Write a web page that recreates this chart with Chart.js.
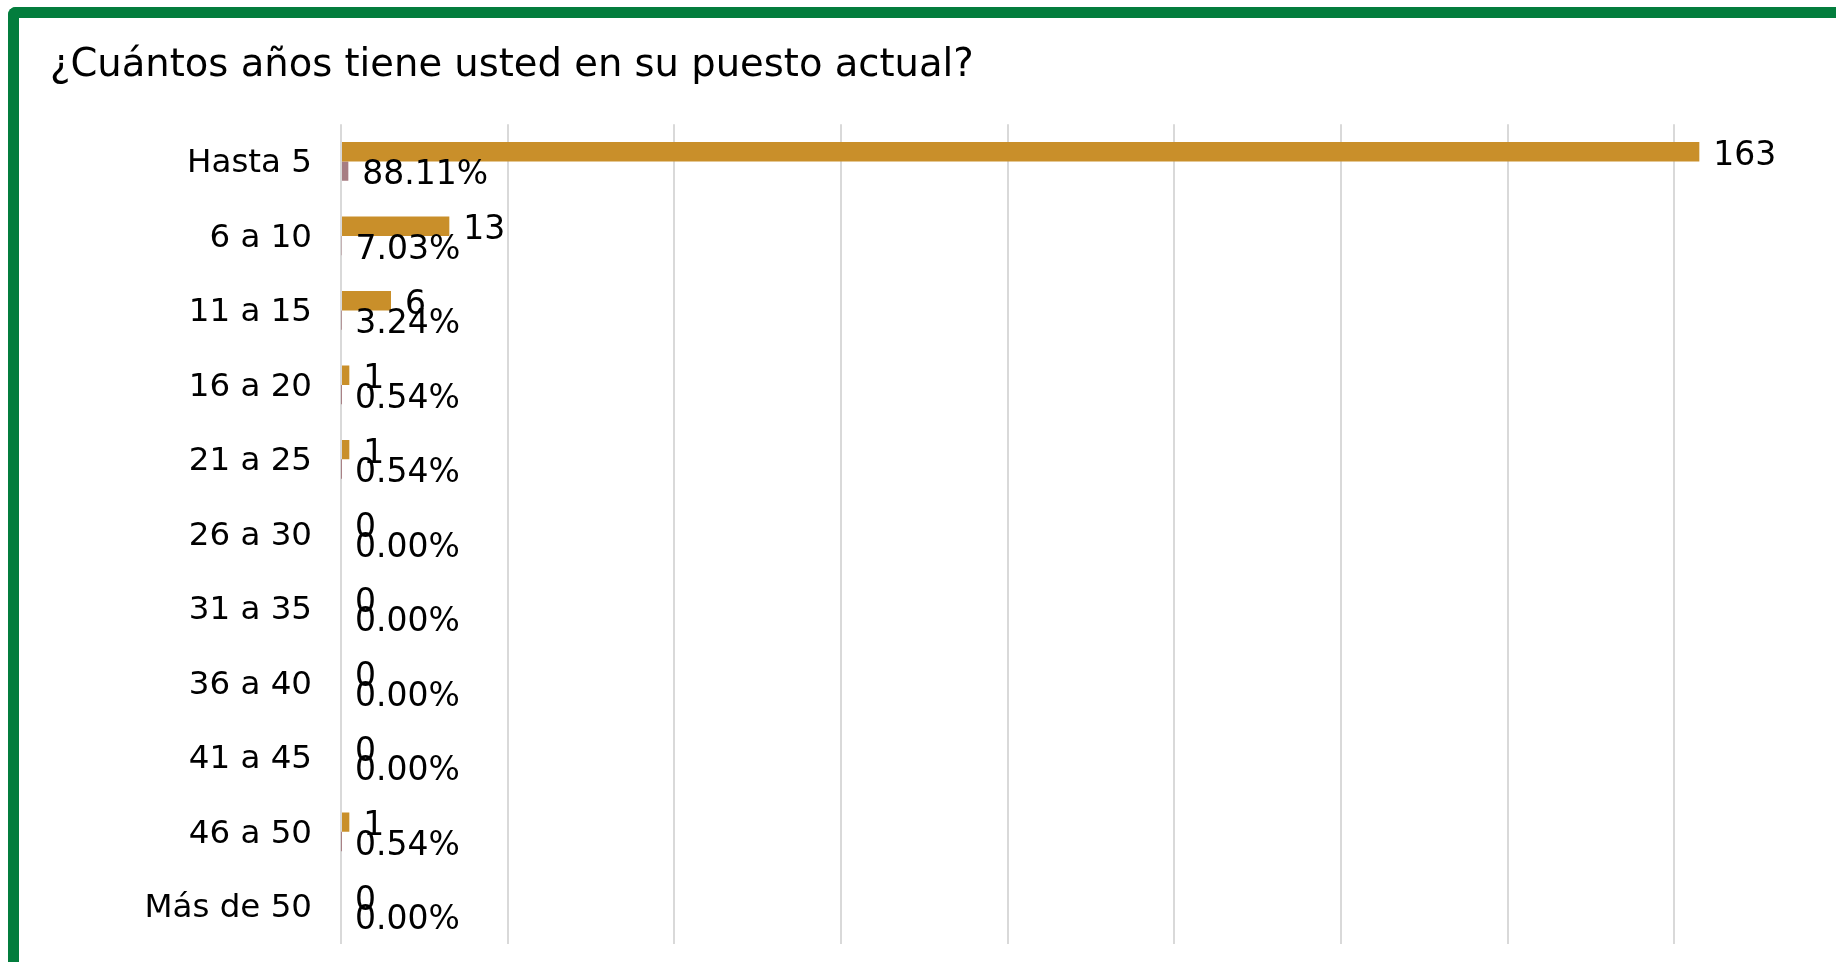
<!DOCTYPE html>
<html lang="es">
<head>
<meta charset="utf-8">
<title>Años en el puesto actual</title>
<script src="https://cdn.jsdelivr.net/npm/chart.js@4/dist/chart.umd.min.js"></script>
<style>
  html, body { margin: 0; padding: 0; background: #fff; overflow: hidden; }
  #hoja { position: relative; width: 1836px; height: 962px; overflow: hidden; background: #fff; }
  #grafico { position: absolute; left: 0; top: 0; }
  /* marco verde del recuadro (sólo se ven el borde superior e izquierdo) */
  #marco {
    position: absolute; left: 8px; top: 7px;
    width: 1900px; height: 1000px;
    border-top: 11px solid #037d3d;
    border-left: 11px solid #037d3d;
    border-top-left-radius: 8px;
    pointer-events: none;
  }
</style>
</head>
<body>
<div id="hoja">
  <canvas id="grafico" width="1860" height="962"></canvas>
  <div id="marco"></div>
</div>

<script>
// Rangos de antigüedad en el puesto
const rangos = ['Hasta 5', '6 a 10', '11 a 15', '16 a 20', '21 a 25', '26 a 30',
                '31 a 35', '36 a 40', '41 a 45', '46 a 50', 'Más de 50'];

// Número de respuestas por rango
const respuestas = [163, 13, 6, 1, 1, 0, 0, 0, 0, 1, 0];

// Proporción sobre el total (se etiqueta como porcentaje)
const porcentajes = [0.8811, 0.0703, 0.0324, 0.0054, 0.0054, 0, 0, 0, 0, 0.0054, 0];

// Eje horizontal
const ejeMax = 180;
const ejePaso = 20;

const titulo = '¿Cuántos años tiene usted en su puesto actual?';

const FUENTE = 'DejaVu Sans';

// Formato de la etiqueta de cada serie
const formatos = [
  v => String(v),
  v => (v * 100).toFixed(2) + '%',
];

// Etiquetas de valor al final de cada barra
const etiquetasBarras = {
  id: 'etiquetasBarras',
  afterDatasetsDraw(chart) {
    const ctx = chart.ctx;
    ctx.save();
    ctx.font = '33px "' + FUENTE + '"';
    ctx.fillStyle = '#000';
    ctx.textAlign = 'left';
    ctx.textBaseline = 'middle';
    chart.data.datasets.forEach((ds, i) => {
      const meta = chart.getDatasetMeta(i);
      meta.data.forEach((barra, j) => {
        ctx.fillText(formatos[i](ds.data[j]), barra.x + 14, barra.y + 4.5);
      });
    });
    ctx.restore();
  }
};

Chart.defaults.font.family = FUENTE;

new Chart(document.getElementById('grafico'), {
  type: 'bar',
  data: {
    labels: rangos,
    datasets: [
      {
        label: 'Respuestas',
        data: respuestas,
        backgroundColor: '#c98f2a',
        borderWidth: 0,
        categoryPercentage: 0.52,
        barPercentage: 1,
      },
      {
        label: 'Porcentaje',
        data: porcentajes,
        backgroundColor: '#a77d82',
        borderWidth: 0,
        categoryPercentage: 0.52,
        barPercentage: 1,
      },
    ],
  },
  options: {
    indexAxis: 'y',
    responsive: false,
    animation: false,
    layout: {
      padding: { left: 50, right: 19, top: 0, bottom: 18.5 },
    },
    scales: {
      x: {
        min: 0,
        max: ejeMax,
        ticks: { display: false, stepSize: ejePaso },
        grid: { color: '#d9d9d9', lineWidth: 2, drawTicks: false },
        border: { display: false },
      },
      y: {
        grid: { display: false, drawTicks: false },
        border: { display: false },
        ticks: {
          color: '#000',
          font: { family: FUENTE, size: 32.5 },
          padding: 29,
          labelOffset: 2.5,
          autoSkip: false,
        },
        afterFit(scale) {
          scale.width = 291;
          scale.paddingTop = 0;
          scale.paddingBottom = 0;
        },
      },
    },
    plugins: {
      legend: { display: false },
      tooltip: { enabled: false },
      title: {
        display: true,
        text: titulo,
        align: 'start',
        color: '#000',
        font: { family: FUENTE, size: 38.5, weight: 'normal' },
        padding: { top: 43, bottom: 35 },
      },
    },
  },
  plugins: [etiquetasBarras],
});
</script>
</body>
</html>
